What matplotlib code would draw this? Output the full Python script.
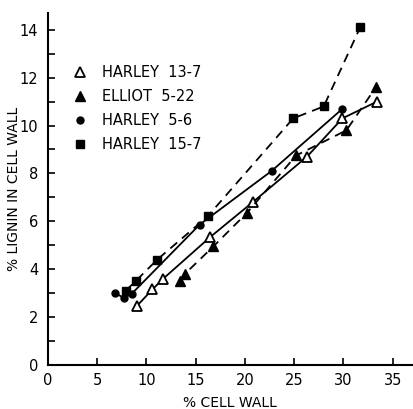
import matplotlib
matplotlib.use('Agg')
import matplotlib.pyplot as plt
from matplotlib.ticker import MultipleLocator

# values
h137_x = [9.0, 10.6, 11.7, 16.5, 20.8, 26.3, 29.9, 33.4]
h137_y = [2.45, 3.15, 3.6, 5.35, 6.8, 8.7, 10.3, 11.0]

e522_x = [13.4, 13.9, 16.8, 20.2, 25.2, 30.3, 33.3]
e522_y = [3.5, 3.8, 4.95, 6.35, 8.75, 9.8, 11.6]

h56_x = [6.8, 7.7, 8.5, 15.4, 22.7, 29.9]
h56_y = [3.0, 2.8, 2.97, 5.86, 8.1, 10.7]

h157_x = [7.9, 8.9, 11.1, 16.2, 24.9, 28.0, 31.7]
h157_y = [3.1, 3.5, 4.4, 6.2, 10.3, 10.8, 14.1]

x_ticks = [0, 5, 10, 15, 20, 25, 30, 35]
y_ticks = [0, 2, 4, 6, 8, 10, 12, 14]

plt.rcParams['font.family'] = 'DejaVu Sans'

fig = plt.figure(figsize=(4.14, 4.09), dpi=100)
ax = fig.add_axes([0.116, 0.108, 0.88, 0.86])

dash = (0, (5, 3.5))
ax.plot(h137_x, h137_y, color='black', lw=1.3, marker='^', ms=7.5,
        mfc='white', mec='black', mew=1.3, label='HARLEY  13-7')
ax.plot(e522_x, e522_y, color='black', lw=1.3, ls=dash, marker='^', ms=7.5,
        mfc='black', mec='black', label='ELLIOT  5-22')
ax.plot(h56_x, h56_y, color='black', lw=1.3, marker='o', ms=5,
        mfc='black', mec='black', label='HARLEY  5-6')
ax.plot(h157_x, h157_y, color='black', lw=1.3, ls=dash, marker='s', ms=6,
        mfc='black', mec='black', label='HARLEY  15-7')

ax.set_xlim(0, 37)
ax.set_ylim(0, 14.7)
ax.set_xticks(x_ticks)
ax.set_yticks(y_ticks)
ax.yaxis.set_minor_locator(MultipleLocator(1))

for s in ['top', 'right']:
    ax.spines[s].set_visible(False)
for s in ['left', 'bottom']:
    ax.spines[s].set_linewidth(1.5)

ax.tick_params(direction='in', length=5, width=1.2, labelsize=10.5)
ax.tick_params(axis='x', pad=6)
ax.tick_params(axis='y', pad=7)
ax.tick_params(which='minor', direction='in', length=5, width=1.2)

ax.set_xlabel('% CELL WALL', fontsize=10, labelpad=6)
ax.set_ylabel('% LIGNIN IN CELL WALL', fontsize=10, labelpad=-1)

leg = ax.legend(loc='upper left', bbox_to_anchor=(0.072, 0.87), frameon=False,
                fontsize=10.5, handlelength=0, handletextpad=1.5,
                labelspacing=0.62, borderaxespad=0)
for h in leg.legend_handles:
    h.set_linestyle('none')

fig.savefig('out.png', dpi=100)
